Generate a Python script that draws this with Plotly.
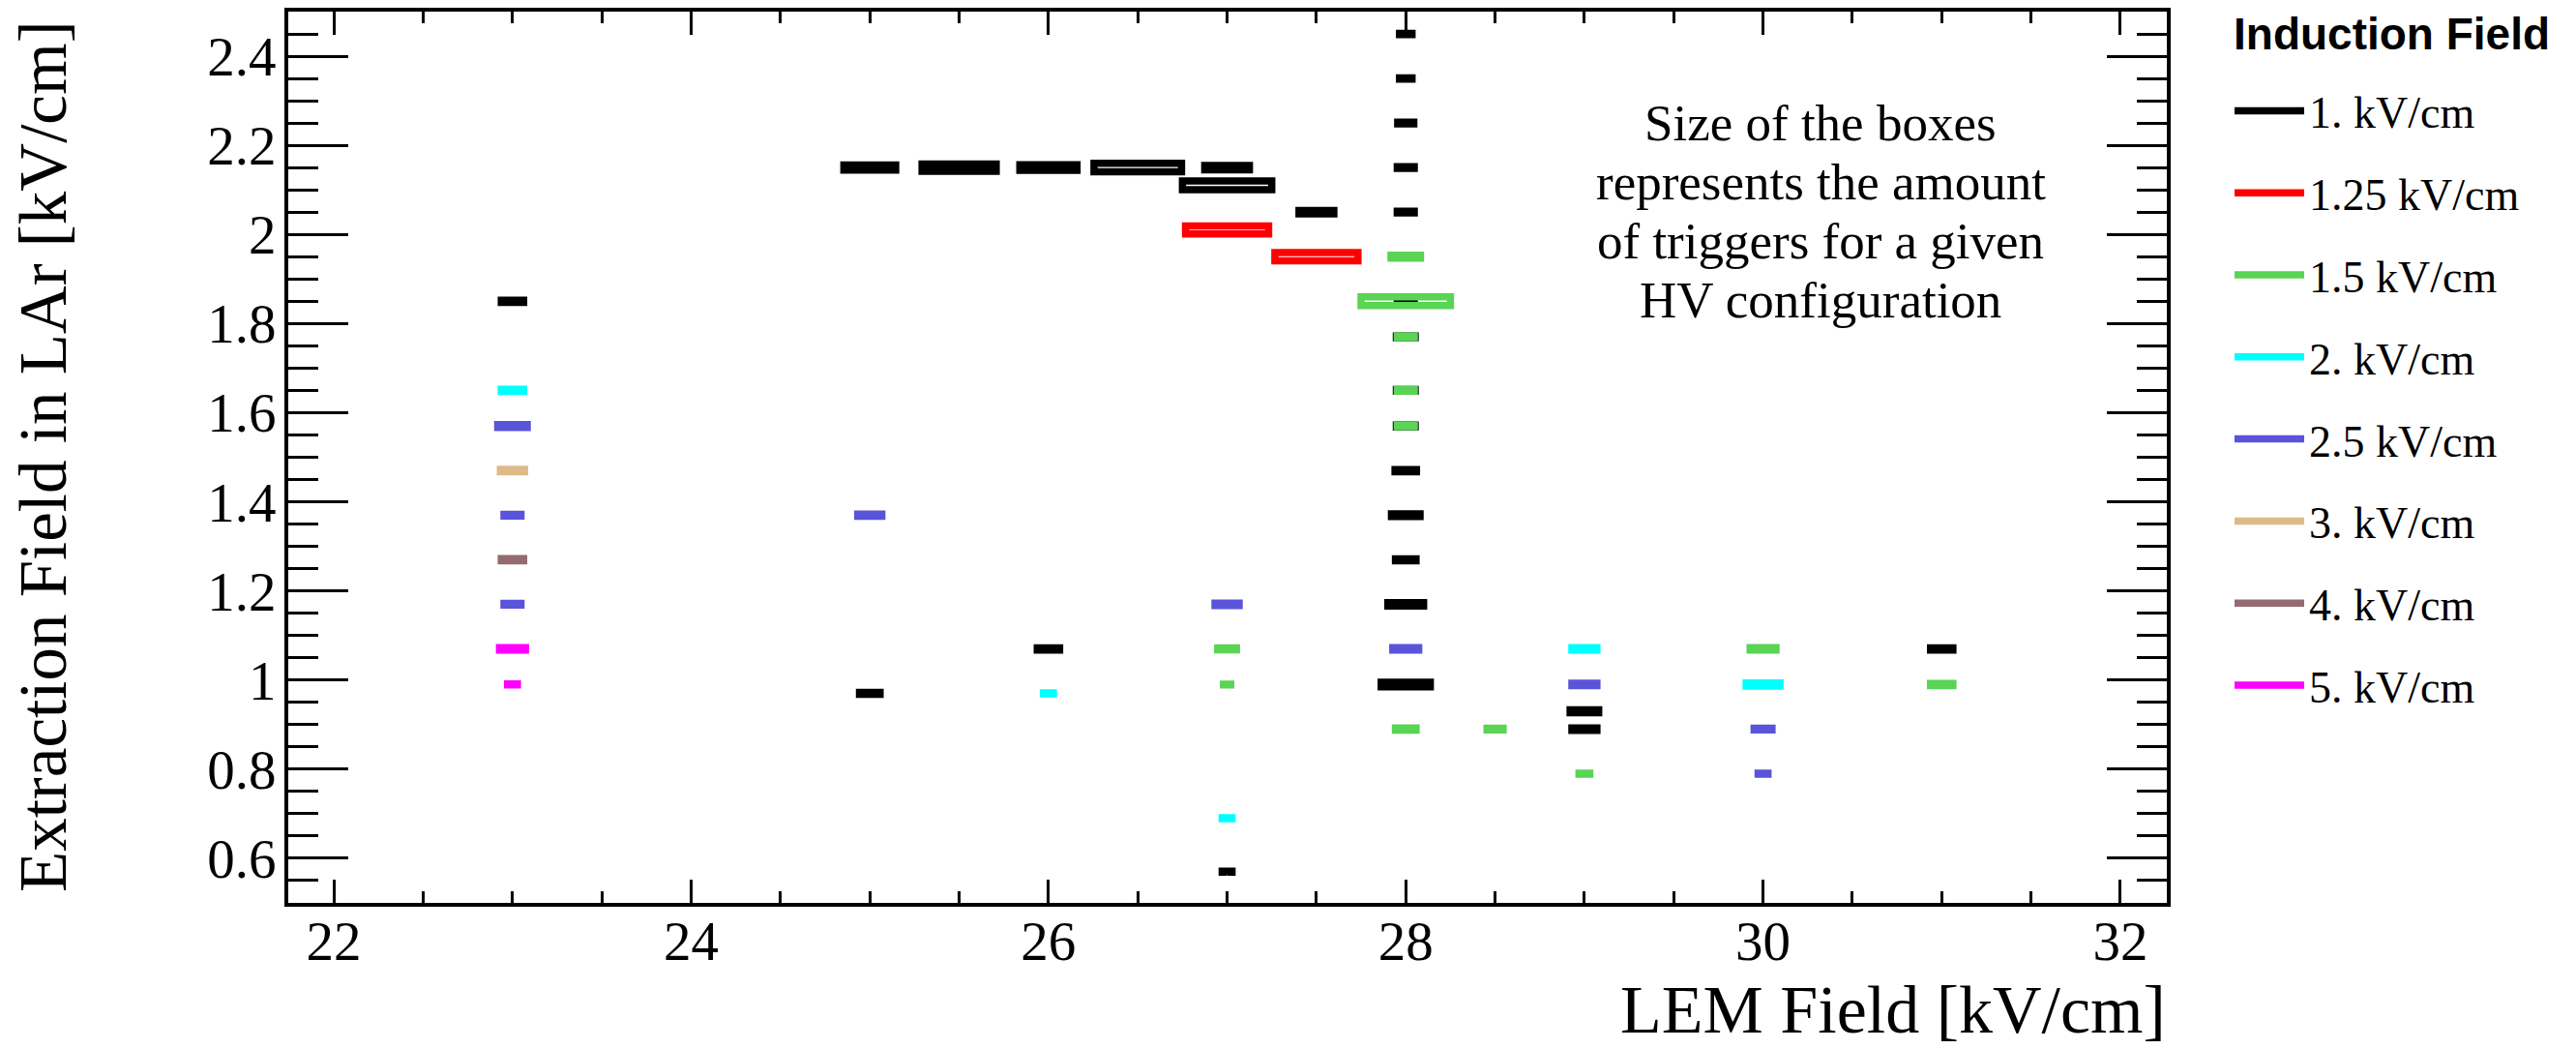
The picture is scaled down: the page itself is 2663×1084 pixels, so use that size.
import plotly.graph_objects as go

# ---------------- data ----------------
induction_labels = ["1. kV/cm", "1.25 kV/cm", "1.5 kV/cm", "2. kV/cm",
                    "2.5 kV/cm", "3. kV/cm", "4. kV/cm", "5. kV/cm"]
induction_colors = ["#000000", "#ff0000", "#59d454", "#00ffff",
                    "#5954d9", "#deba87", "#946b70", "#ff00ff"]
legend_title = "Induction Field"

# LEM field [kV/cm], extraction field [kV/cm], relative amount of triggers [% of max]
lem_1 = [23, 25, 25, 25.5, 26, 26, 26.5, 27, 27, 27, 27.5,
         28, 28, 28, 28, 28, 28, 28, 28, 28, 28, 28, 28, 28, 28, 29, 29, 31]
ext_1 = [1.85, 2.15, 0.97, 2.15, 2.15, 1.07, 2.15, 2.15, 2.11, 0.57, 2.05,
         2.45, 2.35, 2.25, 2.15, 2.05, 1.85, 1.77, 1.65, 1.57, 1.47, 1.37, 1.27, 1.17, 0.99,
         0.93, 0.89, 1.07]
trig_1 = [25, 58, 23, 83, 64, 25, 98, 50, 100, 11, 39,
          14, 14, 18, 19, 19, 19, 21, 21, 21, 24, 32, 23, 40, 55, 32, 28, 25]

lem_125 = [27, 27.5]
ext_125 = [2.01, 1.95]
trig_125 = [93, 93]

lem_15 = [27, 27, 28, 28, 28, 28, 28, 28, 28.5, 29, 30, 31]
ext_15 = [1.07, 0.99, 1.95, 1.85, 1.77, 1.65, 1.57, 0.89, 0.89, 0.79, 1.07, 0.99]
trig_15 = [21, 8, 33, 100, 19, 19, 19, 23, 18, 12, 29, 25]

lem_2 = [23, 26, 27, 29, 30]
ext_2 = [1.65, 0.97, 0.69, 1.07, 0.99]
trig_2 = [25, 11, 11, 28, 38]

lem_25 = [23, 23, 23, 25, 27, 28, 29, 30, 30]
ext_25 = [1.57, 1.37, 1.17, 1.37, 1.17, 1.07, 0.99, 0.89, 0.79]
trig_25 = [33, 19, 19, 27, 27, 29, 28, 20, 11]

lem_3 = [23]
ext_3 = [1.47]
trig_3 = [27]

lem_4 = [23]
ext_4 = [1.27]
trig_4 = [25]

lem_5 = [23, 23]
ext_5 = [1.07, 0.99]
trig_5 = [29, 11]

series = [
    (lem_1, ext_1, trig_1), (lem_125, ext_125, trig_125), (lem_15, ext_15, trig_15),
    (lem_2, ext_2, trig_2), (lem_25, ext_25, trig_25), (lem_3, ext_3, trig_3),
    (lem_4, ext_4, trig_4), (lem_5, ext_5, trig_5),
]

x_ticks = [22, 24, 26, 28, 30, 32]

# ---------------- styling ----------------
BIN_W = 0.5      # full box width (x units) at max triggers
BIN_H = 0.0195   # full box height (y units) at max triggers
SERIF = "Liberation Serif"
OFF = 8                      # default page (body) margin of the html page
W, H = 2663 - OFF, 1084 - OFF
# plot frame on screen: x 298..2240, y 12..933
L, T = 298 - OFF, 12 - OFF
R = W - (2240 - OFF)
B = H - (933 - OFF)
XR = [21.745, 32.26]
YR = [0.5, 2.5]


def box_path(xs, ys, ts):
    px, py = [], []
    for x, y, t in zip(xs, ys, ts):
        hw = 0.5 * BIN_W * t / 100.0
        hh = 0.5 * BIN_H * t / 100.0
        px += [x, x + hw, x + hw, x - hw, x - hw, x, None]
        py += [y - hh, y - hh, y + hh, y + hh, y - hh, y - hh, None]
    return px, py


fig = go.Figure()
for i, (xs, ys, ts) in enumerate(series):
    px, py = box_path(xs, ys, ts)
    fig.add_trace(go.Scatter(
        x=px, y=py, mode="lines", name=induction_labels[i],
        legendgroup="g%d" % i,
        line=dict(color=induction_colors[i], width=7.5, simplify=False),
        hoverinfo="skip",
    ))

# helper trace for mirrored (top/right) axes
fig.add_trace(go.Scatter(x=[None], y=[None], xaxis="x2", yaxis="y2",
                         showlegend=False, hoverinfo="skip"))

tick_font = dict(family=SERIF, size=57, color="black")

xcommon = dict(range=XR, tickmode="array", tickvals=x_ticks, ticks="inside",
               ticklen=24, tickwidth=3, tickcolor="black", showgrid=False,
               zeroline=False, showline=True, linewidth=4, linecolor="black",
               automargin=False,
               minor=dict(dtick=0.5, tick0=22, ticks="inside", ticklen=12,
                          tickwidth=3, tickcolor="black", showgrid=False))
ycommon = dict(range=YR, tickmode="linear", tick0=0, dtick=0.2, ticks="inside",
               ticklen=62, tickwidth=3, tickcolor="black", showgrid=False,
               zeroline=False, showline=True, linewidth=4, linecolor="black",
               automargin=False,
               minor=dict(dtick=0.05, tick0=0, ticks="inside", ticklen=31,
                          tickwidth=3, tickcolor="black", showgrid=False))

pw = W - L - R
ph = H - T - B


def sx(p):
    """screen x pixel -> paper x"""
    return (p - OFF - L) / pw


def sy(p):
    """screen y pixel -> paper y"""
    return (H - B - (p - OFF)) / ph


fig.update_layout(
    width=W, height=H,
    margin=dict(l=L, r=R, t=T, b=B, pad=0, autoexpand=False),
    paper_bgcolor="white", plot_bgcolor="white",
    xaxis=dict(**xcommon, tickfont=tick_font, ticklabelstandoff=-13),
    yaxis=dict(**ycommon, tickfont=tick_font, ticklabelstandoff=-3),
    xaxis2=dict(**xcommon, overlaying="x", side="top", anchor="y2",
                showticklabels=False),
    yaxis2=dict(**ycommon, overlaying="y", side="right", anchor="x2",
                showticklabels=False),
    legend=dict(
        x=sx(2305), y=sy(78),
        xanchor="left", yanchor="top",
        font=dict(family=SERIF, size=46, color="black"),
        itemwidth=72, tracegroupgap=22, bgcolor="rgba(0,0,0,0)",
        maxheight=1080,
    ),
    showlegend=True,
)

annos = [
    dict(text="<b>%s</b>" % legend_title, x=sx(2307), y=sy(35),
         xanchor="left", yanchor="middle",
         font=dict(family="Liberation Sans", size=46, color="black")),
    dict(text="Extraction Field in LAr [kV/cm]", textangle=-90,
         x=sx(45), y=sy(472), xanchor="center", yanchor="middle",
         font=dict(family=SERIF, size=69, color="black")),
    dict(text="LEM Field [kV/cm]", x=sx(2241), y=sy(1043),
         xanchor="right", yanchor="middle",
         font=dict(family=SERIF, size=70, color="black")),
]
note_lines = ["Size of the boxes", "represents the amount",
              "of triggers for a given", "HV configuration"]
for k, line in enumerate(note_lines):
    annos.append(dict(text=line, x=sx(1882), y=sy(127 + 61 * k),
                      xanchor="center", yanchor="middle",
                      font=dict(family=SERIF, size=53, color="black")))
for a in annos:
    a.update(xref="paper", yref="paper", showarrow=False)
fig.update_layout(annotations=annos)

fig.write_html("out.html")
